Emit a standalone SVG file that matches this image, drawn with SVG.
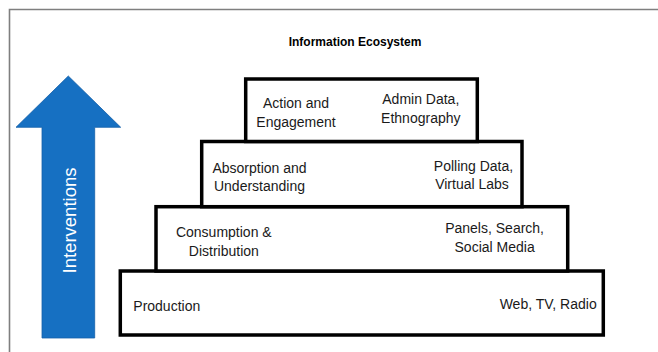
<svg xmlns="http://www.w3.org/2000/svg" width="658" height="352" viewBox="0 0 658 352">
<style>
.frame{fill:none;stroke:#7f7f7f;stroke-width:1.6}
.box{fill:#ffffff;stroke:#000000;stroke-width:3.5}
.t{font-family:"Liberation Sans",Arial,sans-serif;font-size:14px;fill:#1a1a1a}
.m{text-anchor:middle}
.title{font-family:"Liberation Sans",Arial,sans-serif;font-size:12px;font-weight:bold;fill:#000;text-anchor:middle}
.arrowtxt{font-family:"Liberation Sans",Arial,sans-serif;font-size:18.5px;fill:#ffffff;text-anchor:middle}
</style>
<rect width="658" height="352" fill="#ffffff"/>
<path class="frame" d="M9.5,352 V9.5 H658"/>
<text class="title" x="355" y="45.5">Information Ecosystem</text>
<g id="interventions">
<polygon points="68.3,76 120.7,127.3 94.7,127.3 94.7,338 42,338 42,127.3 16,127.3" fill="#1670c2" stroke="#1561a9" stroke-width="0.8"/>
<text class="arrowtxt" transform="translate(76,220.5) rotate(-90)">Interventions</text>
</g>
<g id="production">
<rect class="box" x="120.3" y="271" width="483" height="64"/>
<text class="t" x="133.3" y="311">Production</text>
<text class="t" x="596.7" y="309.3" text-anchor="end">Web, TV, Radio</text>
</g>
<g id="consumption">
<rect class="box" x="156" y="206.7" width="411.7" height="64.3"/>
<text class="t m" x="223.8" y="236.7">Consumption &amp;</text>
<text class="t m" x="223.8" y="255.7">Distribution</text>
<text class="t m" x="494.6" y="233.3">Panels, Search,</text>
<text class="t m" x="494.6" y="252.3">Social Media</text>
</g>
<g id="absorption">
<rect class="box" x="201.7" y="141.5" width="320.3" height="65.2"/>
<text class="t m" x="259.5" y="172.8">Absorption and</text>
<text class="t m" x="259.5" y="191.3">Understanding</text>
<text class="t m" x="473.5" y="170.8">Polling Data,</text>
<text class="t m" x="472" y="189.3">Virtual Labs</text>
</g>
<g id="action">
<rect class="box" x="245.7" y="79" width="231.6" height="62.5"/>
<text class="t m" x="296" y="108.3">Action and</text>
<text class="t m" x="296" y="126.8">Engagement</text>
<text class="t m" x="420.8" y="104.3">Admin Data,</text>
<text class="t m" x="420.8" y="122.8">Ethnography</text>
</g>
<g id="connectors"></g>
</svg>
